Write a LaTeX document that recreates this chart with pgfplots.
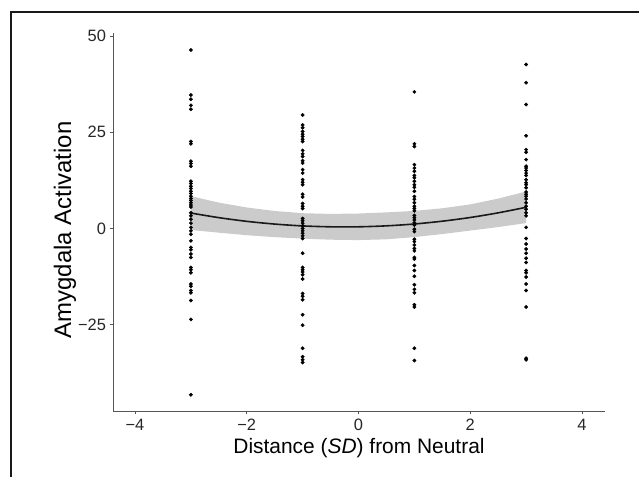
\documentclass[border=0pt]{standalone}
\usepackage{pgfplots}
\pgfplotsset{compat=1.18}
\usepackage{fontspec}
\setmainfont{Liberation Sans}
\definecolor{bandgray}{RGB}{203,203,203}
\definecolor{axisgray}{RGB}{85,85,85}
\begin{document}
\begin{tikzpicture}[x=1bp,y=1bp]
\path[use as bounding box] (0,0) rectangle (639,477);
\draw[line width=2bp, black!90] (11,-2) -- (11,465) -- (641,465);
\begin{axis}[
  at={(113bp,66bp)}, anchor=south west,
  scale only axis, width=492bp, height=378bp,
  xmin=-4.394, xmax=4.412, ymin=-47.4, ymax=50.8,
  axis x line*=bottom, axis y line*=left,
  axis line style={-, axisgray, line width=0.9bp},
  tick style={axisgray, line width=0.9bp},
  tick align=outside, major tick length=3.5bp,
  xtick={-4,-2,0,2,4}, xticklabels={−4,−2,0,2,4},
  ytick={-25,0,25,50}, yticklabels={−25,0,25,50},
  ticklabel style={font=\fontsize{16.5}{16.5}\selectfont, text=black!85},
  xticklabel style={yshift=-1bp},
  xlabel={Distance (\textit{SD}) from Neutral},
  ylabel={Amygdala Activation},
  xlabel style={font=\fontsize{21}{21}\selectfont, at={(axis description cs:0.5,-0.071)}, anchor=north, inner sep=0pt},
  ylabel style={font=\fontsize{24}{24}\selectfont, at={(axis description cs:-0.0976,0.479)}, anchor=center, inner sep=0pt},
  clip=false,
]
% confidence band
\addplot[fill=bandgray, draw=none] coordinates {
(-3,8.42) (-2.5,6.73) (-2,5.47) (-1.5,4.56) (-1,3.98) (-0.5,3.80) (0,3.90) (0.5,4.20) (1,4.58) (1.5,5.26) (2,6.27) (2.5,7.78) (3,9.62)
(3,1.42) (2.5,0.38) (2,-0.53) (1.5,-1.44) (1,-2.22) (0.5,-2.80) (0,-3.00) (-0.5,-2.90) (-1,-2.62) (-1.5,-2.24) (-2,-1.73) (-2.5,-1.07) (-3,-0.38)
} -- cycle;
% observations
\addplot[only marks, mark=*, mark size=1.7bp, black] coordinates {
(-3,46.4) (-3,34.7) (-3,33.6) (-3,32.0) (-3,31.0) (-3,22.6) (-3,22.0) (-3,17.5) (-3,16.9) (-3,16.2)
(-3,12.3) (-3,11.7) (-3,11.0) (-3,10.4) (-3,9.7) (-3,9.1) (-3,8.4) (-3,7.8) (-3,7.3) (-3,6.7) (-3,6.1) (-3,5.6)
(-3,4.1) (-3,3.3) (-3,2.4) (-3,1.4) (-3,0.3) (-3,-0.6) (-3,-1.5) (-3,-3.2) (-3,-4.9) (-3,-5.5) (-3,-6.6) (-3,-7.5)
(-3,-10.1) (-3,-10.7) (-3,-11.5) (-3,-14.4) (-3,-15.0) (-3,-16.1) (-3,-16.7) (-3,-18.7) (-3,-23.6) (-3,-43.2)
(-1,29.5) (-1,26.9) (-1,26.2) (-1,25.2) (-1,24.5) (-1,23.9) (-1,23.2) (-1,22.6) (-1,20.3) (-1,19.4) (-1,18.7)
(-1,17.6) (-1,17.0) (-1,15.3) (-1,14.4) (-1,12.7) (-1,12.0) (-1,11.4) (-1,8.9) (-1,8.2) (-1,6.5) (-1,5.8) (-1,5.2)
(-1,2.6) (-1,2.0) (-1,1.4) (-1,0.7) (-1,0.0) (-1,-0.6) (-1,-1.2) (-1,-1.9) (-1,-2.6) (-1,-6.4) (-1,-10.1) (-1,-10.7)
(-1,-11.3) (-1,-12.0) (-1,-13.1) (-1,-16.9) (-1,-17.6) (-1,-18.5) (-1,-22.4) (-1,-25.1) (-1,-31.1) (-1,-33.3) (-1,-34.1) (-1,-34.8)
(1,35.5) (1,22.0) (1,21.3) (1,16.6) (1,15.7) (1,14.9) (1,13.8) (1,13.2) (1,12.3) (1,11.4) (1,10.7) (1,9.7)
(1,8.3) (1,7.6) (1,6.7) (1,5.8) (1,5.2) (1,4.6) (1,3.4) (1,2.8) (1,2.2) (1,1.5) (1,0.9) (1,-0.2) (1,-0.8)
(1,-2.8) (1,-3.4) (1,-4.3) (1,-5.2) (1,-5.8) (1,-7.5) (1,-7.9) (1,-9.6) (1,-10.9) (1,-12.4) (1,-14.6) (1,-15.8)
(1,-16.7) (1,-19.8) (1,-20.4) (1,-31.1) (1,-34.3)
(3,42.6) (3,37.9) (3,32.2) (3,24.1) (3,20.5) (3,19.8) (3,17.9) (3,16.2) (3,15.7) (3,15.1) (3,14.4) (3,13.8)
(3,12.7) (3,11.9) (3,11.4) (3,10.6) (3,9.5) (3,8.9) (3,8.4) (3,7.7) (3,6.7) (3,5.8) (3,5.0) (3,4.1) (3,3.3)
(3,0.3) (3,-2.6) (3,-4.0) (3,-5.3) (3,-6.4) (3,-7.7) (3,-8.8) (3,-10.9) (3,-11.5) (3,-12.6) (3,-14.4) (3,-16.1)
(3,-20.4) (3,-33.7) (3,-34.1)
};
% fitted quadratic
\addplot[black!90, line width=1.6bp, smooth] coordinates {
(-3,4.02) (-2.5,2.83) (-2,1.87) (-1.5,1.16) (-1,0.68) (-0.5,0.45) (0,0.45) (0.5,0.70) (1,1.18) (1.5,1.91) (2,2.87) (2.5,4.08) (3,5.52)
};
\end{axis}
\end{tikzpicture}
\end{document}
